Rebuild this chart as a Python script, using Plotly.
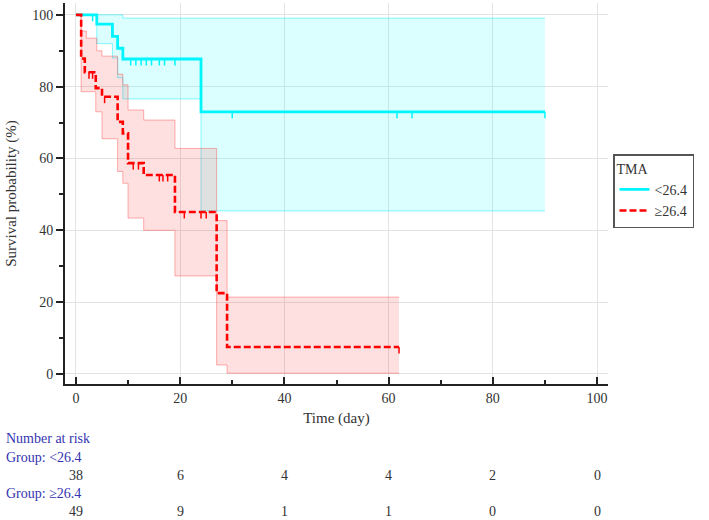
import plotly.graph_objects as go

# ---- data ----
# Group <26.4 : Kaplan-Meier estimate (%)
cyan_t = [0, 4, 7, 8, 9, 24, 90]
cyan_s = [100, 97.4, 94.0, 90.7, 87.7, 73.0, 73.0]
cyan_up_t = [0, 9, 90]
cyan_up_s = [100, 99.1, 99.1]
cyan_lo_t = [0, 4, 7, 8, 9, 24, 90]
cyan_lo_s = [100, 92.0, 88.0, 82.5, 76.6, 45.4, 45.4]
cyan_cens = [3.2, 10.5, 11.5, 12.5, 13.5, 14.5, 16, 17, 19, 30, 61.6, 64.5, 90]

# Group >=26.4
red_t = [0, 1, 1.7, 3.8, 5, 8, 9, 10, 13, 19, 27, 29, 62]
red_s = [100, 87.8, 84.0, 79.6, 77.2, 70.2, 67.0, 58.7, 55.4, 45.1, 22.5, 7.5, 7.5]
red_up_t = [0, 1, 2, 4, 5, 8, 9, 10, 13, 19, 27, 29, 62]
red_up_s = [100, 95.5, 93.5, 90.0, 88.5, 83.5, 80.5, 73.5, 70.7, 62.8, 42.7, 21.4, 21.4]
red_lo_t = [0, 1, 3.8, 5, 8, 9, 10, 13, 19, 27, 29, 62]
red_lo_s = [100, 78.6, 73.0, 65.5, 56.4, 53.1, 43.4, 40.0, 27.3, 2.5, 0.2, 0.2]
red_cens = [2.5, 3.2, 5.5, 11, 12, 16, 16.7, 17.6, 20.8, 24, 25, 62]

risk_times = [0, 20, 40, 60, 80, 100]
risk_low = [38, 6, 4, 4, 2, 0]
risk_high = [49, 9, 1, 1, 0, 0]

group_low = "&lt;26.4"
group_high = "≥26.4"

FONT = "Liberation Serif, Times New Roman, serif"
CYAN = "#00F5FF"
RED = "#FF0000"


def step_value(ts, ss, t):
    v = ss[0]
    for ti, si in zip(ts, ss):
        if ti <= t:
            v = si
    return v


def censor_segments(ts, ss, cens, drop=1.8):
    xs, ys = [], []
    for c in cens:
        v = step_value(ts, ss, c)
        xs += [c, c, None]
        ys += [v, v - drop, None]
    return xs, ys


fig = go.Figure()

# confidence bands
fig.add_trace(go.Scatter(x=cyan_lo_t, y=cyan_lo_s, mode="lines", line=dict(color="rgba(0,235,255,0.45)", width=1, shape="hv"),
                         showlegend=False, hoverinfo="skip"))
fig.add_trace(go.Scatter(x=cyan_up_t, y=cyan_up_s, mode="lines", line=dict(color="rgba(0,235,255,0.45)", width=1, shape="hv"),
                         fill="tonexty", fillcolor="rgba(0,255,255,0.14)", showlegend=False, hoverinfo="skip"))
fig.add_trace(go.Scatter(x=red_lo_t, y=red_lo_s, mode="lines", line=dict(color="rgba(255,60,60,0.4)", width=1, shape="hv"),
                         showlegend=False, hoverinfo="skip"))
fig.add_trace(go.Scatter(x=red_up_t, y=red_up_s, mode="lines", line=dict(color="rgba(255,60,60,0.4)", width=1, shape="hv"),
                         fill="tonexty", fillcolor="rgba(255,0,0,0.12)", showlegend=False, hoverinfo="skip"))

# survival curves
fig.add_trace(go.Scatter(x=cyan_t, y=cyan_s, mode="lines", name=group_low,
                         line=dict(color=CYAN, width=2.8, shape="hv")))
fig.add_trace(go.Scatter(x=red_t, y=red_s, mode="lines", name=group_high,
                         line=dict(color=RED, width=2.6, shape="hv", dash="7px,3px")))

# censor marks
cx, cy = censor_segments(cyan_t, cyan_s, cyan_cens)
fig.add_trace(go.Scatter(x=cx, y=cy, mode="lines", line=dict(color=CYAN, width=1.5),
                         showlegend=False, hoverinfo="skip"))
rx, ry = censor_segments(red_t, red_s, red_cens)
fig.add_trace(go.Scatter(x=rx, y=ry, mode="lines", line=dict(color=RED, width=1.5),
                         showlegend=False, hoverinfo="skip"))

# number at risk table
PLOT_TOP, PLOT_BOT = 3, 384
H = PLOT_BOT - PLOT_TOP


def yp(px):
    return (PLOT_BOT - px) / H


BLUE = "#3434B0"
ann = []
left_x = (4 - 65) / 543
for txt, py in [("Number at risk", 438), ("Group: " + group_low, 457), ("Group: " + group_high, 493)]:
    ann.append(dict(text=txt, xref="paper", yref="paper", x=left_x, y=yp(py), xanchor="left", yanchor="middle",
                    showarrow=False, font=dict(family=FONT, size=14, color=BLUE)))
for t, n in zip(risk_times, risk_low):
    ann.append(dict(text=str(n), xref="x", yref="paper", x=t, y=yp(475), xanchor="center", yanchor="middle",
                    showarrow=False, font=dict(family=FONT, size=14, color="#333")))
for t, n in zip(risk_times, risk_high):
    ann.append(dict(text=str(n), xref="x", yref="paper", x=t, y=yp(511), xanchor="center", yanchor="middle",
                    showarrow=False, font=dict(family=FONT, size=14, color="#333")))

fig.update_layout(
    width=709, height=520,
    margin=dict(l=65, r=101, t=PLOT_TOP, b=520 - PLOT_BOT, autoexpand=False),
    paper_bgcolor="white", plot_bgcolor="white",
    font=dict(family=FONT, size=14, color="#333"),
    showlegend=True,
    legend=dict(title=dict(text="TMA", font=dict(family=FONT, size=14, color="#333")),
                x=(613 - 65) / 543, y=yp(154), xanchor="left", yanchor="top",
                traceorder="normal", tracegroupgap=0,
                bgcolor="white", bordercolor="#555", borderwidth=1.5,
                font=dict(family=FONT, size=14, color="#333"), itemwidth=30),
    annotations=ann,
)
fig.update_xaxes(range=[-2.1, 102.1], tickvals=[0, 20, 40, 60, 80, 100], ticks="inside", ticklen=7,
                 tickcolor="#222", tickwidth=1.5, showline=True, linecolor="#222", linewidth=2,
                 showgrid=True, gridcolor="#e3e3e3", gridwidth=1, zeroline=False, automargin=False,
                 minor=dict(dtick=10, tick0=0, ticks="inside", ticklen=4, tickcolor="#222", showgrid=False),
                 title=dict(text="Time (day)", standoff=8, font=dict(family=FONT, size=15, color="#333")),
                 tickfont=dict(family=FONT, size=14, color="#333"))
fig.update_yaxes(range=[-2.8, 103.3], tickvals=[0, 20, 40, 60, 80, 100], ticks="outside", ticklen=7,
                 tickcolor="#222", tickwidth=1.5, showline=True, linecolor="#222", linewidth=2,
                 showgrid=True, gridcolor="#e3e3e3", gridwidth=1, zeroline=False, automargin=False,
                 minor=dict(dtick=10, tick0=0, ticks="outside", ticklen=4, tickcolor="#222", showgrid=False),
                 title=dict(text="Survival probability (%)", standoff=12, font=dict(family=FONT, size=15, color="#333")),
                 tickfont=dict(family=FONT, size=14, color="#333"))

fig.write_html("out.html", config={"displayModeBar": False},
               post_script="document.body.style.margin='0';document.body.style.overflow='hidden';")
